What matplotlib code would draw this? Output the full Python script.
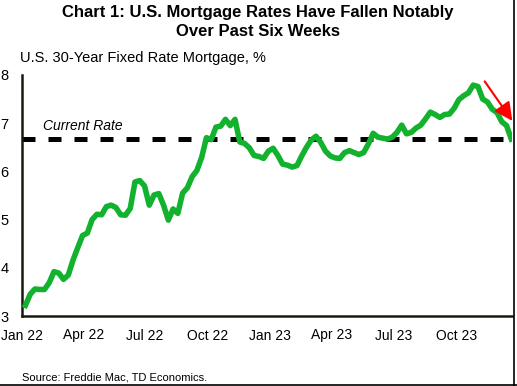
import matplotlib
matplotlib.use("Agg")
import matplotlib.pyplot as plt
import matplotlib.dates as mdates
import pandas as pd
from matplotlib.lines import Line2D

plt.rcParams['font.family'] = ['Liberation Sans', 'DejaVu Sans']

# Freddie Mac PMMS 30-year fixed, weekly (Thursdays), Jan 2022 - Dec 2023
rates_2022 = [3.22, 3.45, 3.56, 3.55,
              3.55, 3.69, 3.92, 3.89,
              3.76, 3.85, 4.16, 4.42, 4.67,
              4.72, 5.00, 5.11, 5.10,
              5.27, 5.30, 5.25, 5.10,
              5.09, 5.23, 5.78, 5.81, 5.70,
              5.30, 5.51, 5.54, 5.30,
              4.99, 5.22, 5.13, 5.55,
              5.66, 5.89, 6.02, 6.29, 6.70,
              6.66, 6.92, 6.94, 7.08,
              6.95, 7.08, 6.61, 6.58,
              6.49, 6.33, 6.31, 6.27, 6.42]
rates_2023 = [6.48, 6.33, 6.15, 6.13,
              6.09, 6.12, 6.32, 6.50,
              6.65, 6.73, 6.60, 6.42, 6.32,
              6.28, 6.27, 6.39, 6.43,
              6.39, 6.35, 6.39, 6.57,
              6.79, 6.71, 6.69, 6.67, 6.71,
              6.81, 6.96, 6.78, 6.81,
              6.90, 6.96, 7.09, 7.23, 7.18,
              7.12, 7.18, 7.19, 7.31,
              7.49, 7.57, 7.63, 7.79,
              7.76, 7.50, 7.44, 7.29, 7.22,
              7.03, 6.95, 6.67]
rates = rates_2022 + rates_2023
dates = pd.date_range('2022-01-06', periods=len(rates), freq='W-THU')
current = rates[-1]

fig = plt.figure(figsize=(5.17, 3.86), dpi=100)
ax = fig.add_axes([22 / 517, 70 / 386, 490 / 517, 241 / 386])

ax.plot(dates, rates, color='#12b22f', lw=4.0, solid_joinstyle='round', zorder=3)
ax.axhline(current, color='black', lw=3.6, dashes=(2.6, 2.6), zorder=2)
ax.text(pd.Timestamp('2022-02-01'), current + 0.12, 'Current Rate',
        fontsize=10, style='italic', va='bottom')

ax.set_ylim(3, 8)
ax.set_xlim(pd.Timestamp('2022-01-01'), pd.Timestamp('2023-12-22'))
ax.set_yticks([3, 4, 5, 6, 7, 8])
ax.xaxis.set_major_locator(mdates.MonthLocator(bymonth=[1, 4, 7, 10]))
ax.xaxis.set_major_formatter(mdates.DateFormatter('%b %y'))
ax.tick_params(axis='x', length=0, pad=9, labelsize=10)
ax.tick_params(axis='y', length=0, pad=9.5, labelsize=10.5)
for s in ['top', 'right']:
    ax.spines[s].set_visible(False)
for s in ['left', 'bottom']:
    ax.spines[s].set_color('#1a1a0a')
    ax.spines[s].set_linewidth(1.8)

# red arrow marking recent decline
ax.annotate('', xy=(1.004, 0.80), xytext=(0.941, 0.983), xycoords='axes fraction',
            arrowprops=dict(arrowstyle='-|>,head_length=1.1,head_width=0.55',
                        color='red', lw=1.5), annotation_clip=False)

fig.text(258 / 517, 1 - 13 / 386, 'Chart 1: U.S. Mortgage Rates Have Fallen Notably',
         ha='center', va='center', fontsize=12, fontweight='bold')
fig.text(258 / 517, 1 - 32 / 386, 'Over Past Six Weeks',
         ha='center', va='center', fontsize=12, fontweight='bold')
fig.text(20 / 517, 1 - 58 / 386, 'U.S. 30-Year Fixed Rate Mortgage, %',
         ha='left', va='center', fontsize=10.5)
fig.text(22 / 517, 1 - 378 / 386, 'Source: Freddie Mac, TD Economics.',
         ha='left', va='center', fontsize=8)

# frame on right and bottom
fig.add_artist(Line2D([514 / 517, 514 / 517], [0, 1], transform=fig.transFigure,
                      color='black', lw=1.2))
fig.add_artist(Line2D([0, 1], [1.5 / 386, 1.5 / 386], transform=fig.transFigure,
                      color='black', lw=1.2))

fig.savefig('out.png', dpi=100)
